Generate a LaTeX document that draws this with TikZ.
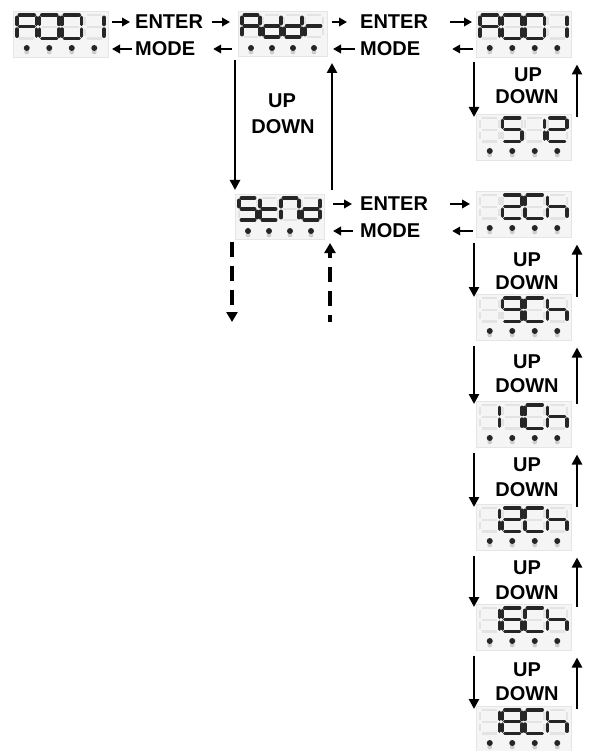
\documentclass[tikz,border=0pt]{standalone}
\usepackage{fontspec}
\setmainfont{Liberation Sans}
\usetikzlibrary{arrows.meta,calc}
\tikzset{
 offseg/.style={draw=gray!22, line width=2.2pt, line cap=butt},
 onseg/.style={draw=black!85, line width=3.3pt, line cap=round},
 dispbox/.style={draw=gray!20, fill=gray!8, inner sep=0pt, outer sep=0pt, rectangle},
 lbl/.style={font=\fontsize{20}{22}\selectfont\bfseries, inner sep=0pt, text=black},
 harr/.style={line width=2.4pt, -{Triangle[length=8pt,width=8.5pt]}},
 varr/.style={line width=2.6pt, -{Triangle[length=10pt,width=10pt]}},
 darr/.style={line width=3.6pt, -{Triangle[length=10pt,width=11pt]}},
}
\def\segA{a,b,c,e,f,g}
\def\segZero{a,b,c,d,e,f}
\def\segOne{b,c}
\def\segd{b,c,d,e,g}
\def\segr{e,g}
\def\segS{a,f,g,c,d}
\def\segt{d,e,f,g}
\def\segN{a,b,c,e,f}
\def\segTwo{a,b,g,e,d}
\def\segC{a,f,e,d}
\def\segh{f,e,g,c}
\def\segNine{a,b,c,d,f,g}
\def\segSix{a,f,g,e,d,c}
\def\segEight{a,b,c,d,e,f,g}
\def\segOff{n}
\newcommand\segdigit[5]{%
 \begin{scope}[shift={(#1,#2)}]
  \pgfmathsetmacro\sw{#3}\pgfmathsetmacro\sh{#4}\def\gp{2.2}
  \coordinate (sga1) at (\gp,0); \coordinate (sga2) at (\sw-\gp,0);
  \coordinate (sgb1) at (\sw,\gp); \coordinate (sgb2) at (\sw,\sh/2-\gp);
  \coordinate (sgc1) at (\sw,\sh/2+\gp); \coordinate (sgc2) at (\sw,\sh-\gp);
  \coordinate (sgd1) at (\gp,\sh); \coordinate (sgd2) at (\sw-\gp,\sh);
  \coordinate (sge1) at (0,\sh/2+\gp); \coordinate (sge2) at (0,\sh-\gp);
  \coordinate (sgf1) at (0,\gp); \coordinate (sgf2) at (0,\sh/2-\gp);
  \coordinate (sgg1) at (\gp,\sh/2); \coordinate (sgg2) at (\sw-\gp,\sh/2);
  \foreach \s in {a,b,c,d,e,f,g} {\draw[offseg] (sg\s1) -- (sg\s2);}
  \foreach \s in #5 {\ifx\s\segOff\else\draw[onseg] (sg\s1) -- (sg\s2);\fi}
 \end{scope}}
\newcommand\disp[8]{%
 \pgfmathsetmacro\dw{#4-3}\pgfmathsetmacro\dh{#4+1}%
 \pgfmathsetmacro\bw{3*#4+\dw+8}\pgfmathsetmacro\bh{\dh+23}%
 \node[dispbox, anchor=north west, minimum width=\bw pt, minimum height=\bh pt] (#1) at ({#2-4},{#3-4}) {};
 \segdigit{#2}{#3}{\dw}{\dh}{#5}
 \segdigit{#2+#4}{#3}{\dw}{\dh}{#6}
 \segdigit{#2+2*#4}{#3}{\dw}{\dh}{#7}
 \segdigit{#2+3*#4}{#3}{\dw}{\dh}{#8}
 \foreach \i in {0,1,2,3} {
  \fill[gray!40] ({#2+\i*#4+\dw/2},{#3+37}) circle (2.4);
  \fill[black!85] ({#2+\i*#4+\dw/2},{#3+33}) circle (3);
 }}
\begin{document}
\begin{tikzpicture}[x=1pt,y=-1pt]
\path[fill=white,use as bounding box] (0,0) rectangle (590,751);
% displays
\disp{dispA}{17}{15}{22.5}{\segA}{\segZero}{\segZero}{\segOne}
\disp{dispB}{242}{15}{21}{\segA}{\segd}{\segd}{\segr}
\disp{dispC}{480}{15}{22.5}{\segA}{\segZero}{\segZero}{\segOne}
\disp{dispD}{480}{118}{22.5}{\segOff}{\segS}{\segOne}{\segTwo}
\disp{dispE}{239}{198}{21}{\segS}{\segt}{\segN}{\segd}
\disp{dispF}{480}{195}{22.5}{\segOff}{\segTwo}{\segC}{\segh}
\disp{dispG}{480}{298}{22.5}{\segOff}{\segNine}{\segC}{\segh}
\disp{dispH}{480}{405}{22.5}{\segOne}{\segOne}{\segC}{\segh}
\disp{dispI}{480}{508}{22.5}{\segOne}{\segTwo}{\segC}{\segh}
\disp{dispJ}{480}{608}{22.5}{\segOne}{\segSix}{\segC}{\segh}
\disp{dispK}{480}{710}{22.5}{\segOne}{\segEight}{\segC}{\segh}
% labels
\node[lbl, anchor=west] (enter1) at (135,22) {ENTER};
\node[lbl, anchor=west] (mode1) at (135,49) {MODE};
\node[lbl, anchor=west] (enter2) at (360,22) {ENTER};
\node[lbl, anchor=west] (mode2) at (360,49) {MODE};
\node[lbl, anchor=west] (enter3) at (360,204) {ENTER};
\node[lbl, anchor=west] (mode3) at (360,231) {MODE};
\node[lbl] (upB) at (282,101) {UP};
\node[lbl] (downB) at (283,127) {DOWN};
\node[lbl] (upC) at (528,75) {UP};
\node[lbl] (downC) at (527,97) {DOWN};
\node[lbl] (upF) at (527,260) {UP};
\node[lbl] (downF) at (527,283) {DOWN};
\node[lbl] (upG) at (527,362) {UP};
\node[lbl] (downG) at (527,386) {DOWN};
\node[lbl] (upH) at (527,465) {UP};
\node[lbl] (downH) at (527,490) {DOWN};
\node[lbl] (upI) at (527,568) {UP};
\node[lbl] (downI) at (527,593) {DOWN};
\node[lbl] (upJ) at (527,670) {UP};
\node[lbl] (downJ) at (527,694) {DOWN};
% horizontal arrows row 1
\draw[harr] ($(dispA.east |- enter1.west)+(4,0)$) -- ($(enter1.west)+(-5,0)$);
\draw[harr] ($(enter1.east)+(9,0)$) -- ($(dispB.west |- enter1.west)+(-8,0)$);
\draw[harr] ($(mode1.west)+(-3,0)$) -- ($(dispA.east |- mode1.west)+(4,0)$);
\draw[harr] ($(dispB.west |- mode1.west)+(-6,0)$) -- ($(enter1.east |- mode1.west)+(10,0)$);
\draw[harr] ($(dispB.east |- enter2.west)+(5,0)$) -- ($(enter2.west)+(-13,0)$);
\draw[harr] ($(enter2.east)+(22,0)$) -- ($(dispC.west |- enter2.west)+(-4,0)$);
\draw[harr] ($(mode2.west)+(-5,0)$) -- ($(dispB.east |- mode2.west)+(6,0)$);
\draw[harr] ($(dispC.west |- mode2.west)+(-3,0)$) -- ($(enter2.east |- mode2.west)+(24,0)$);
% row 3
\draw[harr] ($(dispE.east |- enter3.west)+(9,0)$) -- ($(enter3.west)+(-8,0)$);
\draw[harr] ($(enter3.east)+(22,0)$) -- ($(dispF.west |- enter3.west)+(-6,0)$);
\draw[harr] ($(mode3.west)+(-7,0)$) -- ($(dispE.east |- mode3.west)+(9,0)$);
\draw[harr] ($(dispF.west |- mode3.west)+(-3,0)$) -- ($(enter3.east |- mode3.west)+(24,0)$);
% Addr <-> StNd
\draw[varr] ($(dispB.south west)+(-3,4)$) -- ($(dispB.south west |- dispE.north)+(-3,-4)$);
\draw[varr] ($(dispB.south east |- dispE.north)+(5,-4)$) -- ($(dispB.south east)+(5,7)$);
% dashed continuation
\coordinate (dashDown) at (232,322);
\coordinate (dashUp) at (330,322);
\draw[darr, dash pattern=on 15pt off 9pt] ($(dispE.south west)+(-3,3)$) -- (dashDown);
\draw[darr, dash pattern=on 15pt off 9pt, dash phase=8pt] (dashUp) -- ($(dispE.south east)+(6,4)$);
% right column
\foreach \u/\l in {dispC/dispD, dispF/dispG, dispG/dispH, dispH/dispI, dispI/dispJ, dispJ/dispK} {
 \draw[varr] ($(\u.south west)+(-2,5)$) -- ($(\u.south west |- \l.north)+(-2,3)$);
 \draw[varr] ($(\u.south east |- \l.north)+(6,3)$) -- ($(\u.south east)+(6,7)$);
}
\end{tikzpicture}
\end{document}
